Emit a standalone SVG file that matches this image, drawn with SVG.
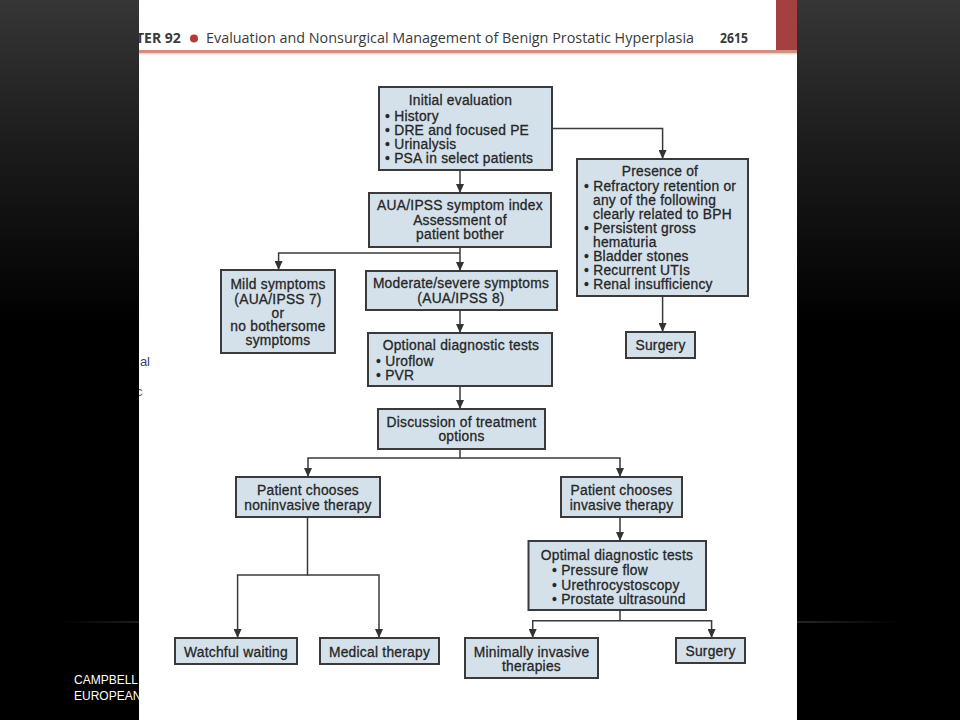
<svg xmlns="http://www.w3.org/2000/svg" width="960" height="720" viewBox="0 0 960 720">
<defs>
<linearGradient id="bg" x1="0" y1="0" x2="0" y2="1">
<stop offset="0" stop-color="#363636"/>
<stop offset="0.2" stop-color="#1c1c1c"/>
<stop offset="0.45" stop-color="#000"/>
<stop offset="1" stop-color="#000"/>
</linearGradient>
<linearGradient id="hl" x1="0" y1="0" x2="1" y2="0">
<stop offset="0" stop-color="#2e2e2e" stop-opacity="0"/>
<stop offset="0.15" stop-color="#2e2e2e"/>
<stop offset="0.85" stop-color="#2e2e2e"/>
<stop offset="1" stop-color="#2e2e2e" stop-opacity="0"/>
</linearGradient>
<clipPath id="page"><rect x="139" y="0" width="658" height="720"/></clipPath>
<marker id="ah" markerUnits="userSpaceOnUse" markerWidth="9" markerHeight="8" viewBox="0 0 9 8" refX="9" refY="4" orient="auto">
<path d="M0,0 L9,4 L0,8 Z" fill="#333"/>
</marker>
</defs>
<style>
.box{fill:#d4e1eb;stroke:#3a3a3a;stroke-width:2}
.t{font-family:"Liberation Sans",Arial,sans-serif;font-size:13.8px;letter-spacing:0.25px;fill:#262626;stroke:#262626;stroke-width:0.3}
.c{text-anchor:middle}
.ln{fill:none;stroke:#3a3a3a;stroke-width:1.5}
.hd{font-family:"Open Sans","Liberation Sans",sans-serif;font-size:14px;fill:#3a3a3a}
.ft{font-family:"Liberation Sans",Arial,sans-serif;font-size:12px;fill:#fff}
</style>
<rect x="0" y="0" width="960" height="720" fill="url(#bg)"/>
<rect x="60" y="621" width="840" height="2" fill="url(#hl)"/>
<text x="74" y="684" class="ft">CAMPBELL</text>
<text x="74" y="700" class="ft">EUROPEAN</text>
<rect x="139" y="0" width="658" height="720" fill="#fff"/>
<g id="header" clip-path="url(#page)">
<rect x="776" y="0" width="21" height="51" fill="#a2413f"/>
<rect x="139" y="50" width="658" height="3" fill="#d4907f"/>
<rect x="139" y="53" width="658" height="1.5" fill="#f0d4cc"/>
<text x="136" y="43" class="hd" font-weight="bold" fill="#333">TER 92</text>
<circle cx="194" cy="38.5" r="4" fill="#b23a3a"/>
<text x="206" y="43" class="hd" textLength="488" lengthAdjust="spacingAndGlyphs">Evaluation and Nonsurgical Management of Benign Prostatic Hyperplasia</text>
<text x="720" y="43" class="hd" font-weight="bold" fill="#333" textLength="28" lengthAdjust="spacingAndGlyphs">2615</text>
<text x="150" y="366" text-anchor="end" font-family="Liberation Sans,Arial,sans-serif" font-size="13" fill="#3c3c70">al</text>
<text x="136" y="396" font-family="Liberation Sans,Arial,sans-serif" font-size="13" fill="#666">c</text>
</g>
<g id="connectors">
<path class="ln" d="M460 170 V193" marker-end="url(#ah)"/>
<path class="ln" d="M552 128.6 H662.6 V159" marker-end="url(#ah)"/>
<path class="ln" d="M460 247 V271" marker-end="url(#ah)"/>
<path class="ln" d="M460 253 H278.6 V270" marker-end="url(#ah)"/>
<path class="ln" d="M662.6 296 V332" marker-end="url(#ah)"/>
<path class="ln" d="M460 310 V333" marker-end="url(#ah)"/>
<path class="ln" d="M460 386 V409" marker-end="url(#ah)"/>
<path class="ln" d="M460 449 V458 H308 V477" marker-end="url(#ah)"/>
<path class="ln" d="M460 458 H620 V477" marker-end="url(#ah)"/>
<path class="ln" d="M307.5 517 V575 H237.6 V638" marker-end="url(#ah)"/>
<path class="ln" d="M307.5 575 H379 V638" marker-end="url(#ah)"/>
<path class="ln" d="M620 517 V541" marker-end="url(#ah)"/>
<path class="ln" d="M620 610 V620.7 H532.7 V638" marker-end="url(#ah)"/>
<path class="ln" d="M620 620.7 H711.6 V638" marker-end="url(#ah)"/>
</g>
<g id="n1">
<rect class="box" x="379" y="87" width="173" height="83"/>
<text class="t c" x="460.5" y="105">Initial evaluation</text>
<text class="t" x="385" y="121">• History</text>
<text class="t" x="385" y="135">• DRE and focused PE</text>
<text class="t" x="385" y="149">• Urinalysis</text>
<text class="t" x="385" y="163">• PSA in select patients</text>
</g>
<g id="n2">
<rect class="box" x="369" y="193" width="182" height="54"/>
<text class="t c" x="460" y="210">AUA/IPSS symptom index</text>
<text class="t c" x="460" y="224.5">Assessment of</text>
<text class="t c" x="460" y="238.7">patient bother</text>
</g>
<g id="n3">
<rect class="box" x="577" y="159" width="171" height="137"/>
<text class="t c" x="660" y="176">Presence of</text>
<text class="t" x="584" y="191">• Refractory retention or</text>
<text class="t" x="593" y="205">any of the following</text>
<text class="t" x="593" y="219">clearly related to BPH</text>
<text class="t" x="584" y="233">• Persistent gross</text>
<text class="t" x="593" y="246.5">hematuria</text>
<text class="t" x="584" y="260.7">• Bladder stones</text>
<text class="t" x="584" y="275">• Recurrent UTIs</text>
<text class="t" x="584" y="289">• Renal insufficiency</text>
</g>
<g id="n4">
<rect class="box" x="626" y="332" width="69" height="26"/>
<text class="t c" x="660.5" y="350">Surgery</text>
</g>
<g id="n5">
<rect class="box" x="221" y="270" width="114" height="83"/>
<text class="t c" x="278" y="289">Mild symptoms</text>
<text class="t c" x="278" y="303.5">(AUA/IPSS 7)</text>
<text class="t c" x="278" y="317.7">or</text>
<text class="t c" x="278" y="331">no bothersome</text>
<text class="t c" x="278" y="345">symptoms</text>
</g>
<g id="n6">
<rect class="box" x="366" y="271" width="191" height="39"/>
<text class="t c" x="461" y="288">Moderate/severe symptoms</text>
<text class="t c" x="461" y="302.5">(AUA/IPSS 8)</text>
</g>
<g id="n7">
<rect class="box" x="368" y="333" width="184" height="53"/>
<text class="t c" x="461" y="350">Optional diagnostic tests</text>
<text class="t" x="376" y="366">• Uroflow</text>
<text class="t" x="376" y="380">• PVR</text>
</g>
<g id="n8">
<rect class="box" x="378" y="409" width="167" height="40"/>
<text class="t c" x="461.5" y="426.5">Discussion of treatment</text>
<text class="t c" x="461.5" y="440.7">options</text>
</g>
<g id="n9">
<rect class="box" x="236" y="477" width="144" height="40"/>
<text class="t c" x="308" y="495">Patient chooses</text>
<text class="t c" x="308" y="509.6">noninvasive therapy</text>
</g>
<g id="n10">
<rect class="box" x="561" y="477" width="121" height="40"/>
<text class="t c" x="621.5" y="495">Patient chooses</text>
<text class="t c" x="621.5" y="509.6">invasive therapy</text>
</g>
<g id="n11">
<rect class="box" x="528.5" y="541" width="177.5" height="69"/>
<text class="t c" x="617" y="560">Optimal diagnostic tests</text>
<text class="t" x="552" y="575">• Pressure flow</text>
<text class="t" x="552" y="589.5">• Urethrocystoscopy</text>
<text class="t" x="552" y="603.7">• Prostate ultrasound</text>
</g>
<g id="n12">
<rect class="box" x="175" y="638" width="122" height="26"/>
<text class="t c" x="236" y="657">Watchful waiting</text>
</g>
<g id="n13">
<rect class="box" x="320" y="638" width="119" height="26"/>
<text class="t c" x="379.5" y="657">Medical therapy</text>
</g>
<g id="n14">
<rect class="box" x="465" y="638" width="133" height="40"/>
<text class="t c" x="531.5" y="657">Minimally invasive</text>
<text class="t c" x="531.5" y="671">therapies</text>
</g>
<g id="n15">
<rect class="box" x="676" y="638" width="69" height="25"/>
<text class="t c" x="710.5" y="656">Surgery</text>
</g>
</svg>
